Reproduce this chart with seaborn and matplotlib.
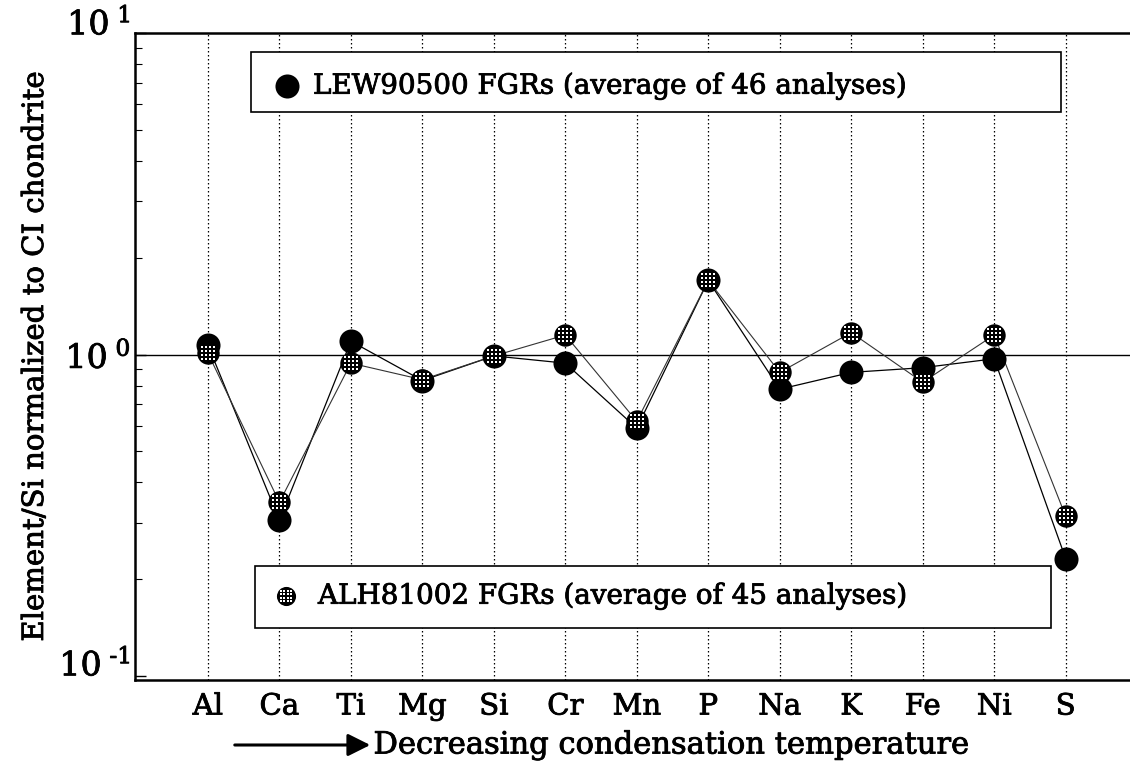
import numpy as np
import pandas as pd
import matplotlib
matplotlib.use("Agg")
import matplotlib.pyplot as plt
import matplotlib.patheffects as pe
import matplotlib.transforms as mtrans
import seaborn as sns
from matplotlib.path import Path
from matplotlib.patches import Rectangle, FancyArrowPatch
from matplotlib.ticker import LogLocator, FixedLocator, NullFormatter

# ---------------- data ----------------
elements = ["Al", "Ca", "Ti", "Mg", "Si", "Cr", "Mn", "P", "Na", "K", "Fe", "Ni", "S"]
lew90500 = [1.07, 0.305, 1.10, 0.83, 0.99, 0.94, 0.59, 1.70, 0.78, 0.88, 0.91, 0.97, 0.232]
alh81002 = [1.01, 0.347, 0.94, 0.835, 0.99, 1.15, 0.62, 1.70, 0.88, 1.17, 0.82, 1.15, 0.314]
lew_label = "LEW90500 FGRs (average of 46 analyses)"
alh_label = "ALH81002 FGRs (average of 45 analyses)"
ytick_vals = [0.1, 1, 10]
ytick_labels = ["$10^{\\ \u20101}$", r"$10^{\ 0}$", r"$10^{\ 1}$"]
xlabel = "Decreasing condensation temperature"
ylabel = "Element/Si normalized to CI chondrite"

df = pd.DataFrame({"element": elements, "LEW": lew90500, "ALH": alh81002})
df["pos"] = np.arange(len(elements))

# ---------------- style ----------------
sns.set_theme(style="white")
FONT = "DejaVu Serif"
plt.rcParams["font.family"] = [FONT, "Liberation Serif"]
plt.rcParams["mathtext.fontset"] = "custom"
plt.rcParams["mathtext.rm"] = FONT
plt.rcParams["mathtext.it"] = FONT
plt.rcParams["mathtext.bf"] = FONT
for k in ["text.color", "axes.labelcolor", "xtick.color", "ytick.color", "axes.edgecolor"]:
    plt.rcParams[k] = "black"

BOLD = [pe.withStroke(linewidth=0.6, foreground="black")]

W, H = 1130, 763
fig = plt.figure(figsize=(W / 100, H / 100), dpi=100)

ax_l, ax_r, ax_t, ax_b = 135, 1130, 33, 680
ax = fig.add_axes([ax_l / W, 1 - ax_b / H, (ax_r - ax_l) / W, (ax_b - ax_t) / H])

# grid pattern marker (white squares) for the hatched circle
squares = []
n = 4
for i in range(n):
    for j in range(n):
        cx = i - (n - 1) / 2
        cy = j - (n - 1) / 2
        a = 0.27
        squares.append(Path([(cx - a, cy - a), (cx + a, cy - a), (cx + a, cy + a),
                             (cx - a, cy + a), (cx - a, cy - a)],
                            [Path.MOVETO, Path.LINETO, Path.LINETO, Path.LINETO, Path.CLOSEPOLY]))
grid_marker = Path.make_compound_path(*squares)

# vertical dotted guides and line at 1
for p in df["pos"]:
    ax.axvline(p, color="black", lw=0.9, ls=(0, (1.2, 2.0)), zorder=1)
ax.axhline(1, color="black", lw=1.0, zorder=1)

# lines
sns.lineplot(data=df, x="pos", y="LEW", sort=False, color="black", lw=0.9, ax=ax, zorder=2)
sns.lineplot(data=df, x="pos", y="ALH", sort=False, color="#333333", lw=0.8, ax=ax, zorder=2)

# markers
sns.scatterplot(data=df, x="pos", y="LEW", color="black", s=300, linewidth=0, ax=ax, zorder=3)
sns.scatterplot(data=df, x="pos", y="ALH", color="black", s=260, linewidth=0, ax=ax, zorder=4)
sns.scatterplot(data=df, x="pos", y="ALH", color="white", marker=grid_marker, s=88,
                linewidth=0, ax=ax, zorder=5)

ax.set_yscale("log")
ax.set_ylim(0.0972, 10)
ax.set_xlim(-1.02, 12.9)

ax.set_xticks(df["pos"])
ax.set_xticklabels(elements, fontsize=21)
ax.tick_params(axis="x", length=0, pad=9)

ax.yaxis.set_major_locator(FixedLocator(ytick_vals))
ax.set_yticklabels(ytick_labels, fontsize=24)
ax.yaxis.set_minor_locator(LogLocator(base=10, subs=np.arange(2, 10)))
ax.yaxis.set_minor_formatter(NullFormatter())
ax.tick_params(axis="y", which="major", direction="in", length=8, width=1.0, pad=3, left=True)
ax.tick_params(axis="y", which="minor", direction="in", length=5, width=0.8, left=True)

# shift outer y tick labels upward as in the reference
ylabs = ax.get_yticklabels()
shifts = [14, 0, 12]
for lab, sh in zip(ylabs, shifts):
    lab.set_transform(lab.get_transform() + mtrans.ScaledTranslation(0, sh / 100, fig.dpi_scale_trans))

for s in ["left", "top", "bottom"]:
    ax.spines[s].set_visible(True)
    ax.spines[s].set_color("black")
    ax.spines[s].set_linewidth(1.8)
ax.spines["right"].set_visible(False)

ax.set_xlabel(xlabel, fontsize=22)
ax.xaxis.set_label_coords((671 - ax_l) / (ax_r - ax_l), (ax_b - 745) / (ax_b - ax_t))
ax.xaxis.label.set_va("center")
ax.set_ylabel(ylabel, fontsize=21)
ax.yaxis.set_label_coords((35 - ax_l) / (ax_r - ax_l), (ax_b - 357) / (ax_b - ax_t))
ax.yaxis.label.set_va("center")

for t in ax.get_xticklabels() + ylabs + [ax.xaxis.label, ax.yaxis.label]:
    t.set_path_effects(BOLD)

# overlay axes in pixel coordinates for arrow and legend boxes
ov = fig.add_axes([0, 0, 1, 1], facecolor="none", zorder=5)
ov.set_xlim(0, W)
ov.set_ylim(H, 0)
ov.axis("off")

ov.add_patch(FancyArrowPatch((232, 745), (373, 745), arrowstyle="-|>", mutation_scale=34,
                             lw=2.2, color="black"))

def legend_box(x0, y0, x1, y1, mx, my, msize, hatched, text, tx):
    ov.add_patch(Rectangle((x0, y0), x1 - x0, y1 - y0, facecolor="white",
                           edgecolor="black", lw=1.2, zorder=1))
    ov.scatter([mx], [my], s=msize, color="black", linewidths=0, zorder=2)
    if hatched:
        ov.scatter([mx], [my], s=msize * 0.38, color="white", marker=grid_marker,
                   linewidths=0, zorder=3)
    ov.text(tx, my, text, fontsize=20, ha="left", va="center", zorder=3, path_effects=BOLD)

legend_box(251, 52, 1061, 112, 287, 86, 300, False, lew_label, 313)
legend_box(255, 566, 1051, 628, 286, 596, 190, True, alh_label, 318)

fig.savefig("out.png", dpi=100, facecolor="white")
